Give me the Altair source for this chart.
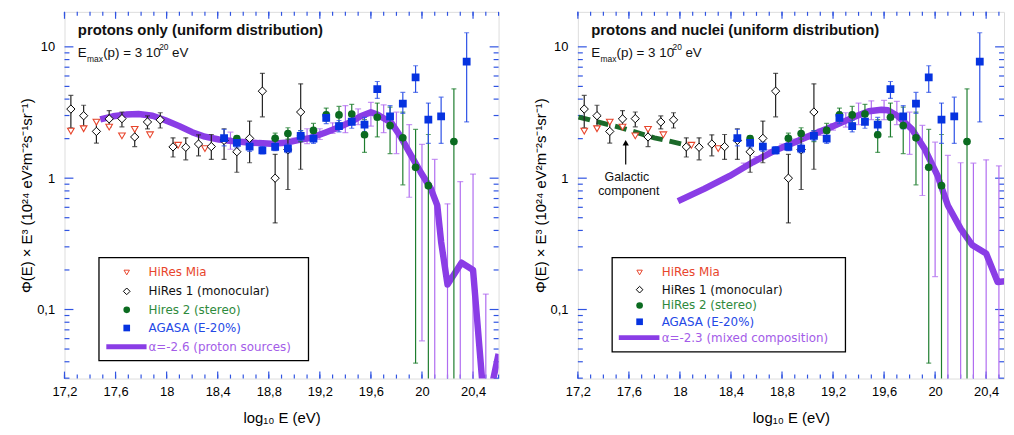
import altair as alt
import pandas as pd

# ---------------- data ----------------
# HiRes Mia (open red triangles)
mia_x = [17.25, 17.35, 17.45, 17.55, 17.65, 17.75, 17.87, 18.09, 18.30]
mia_y = [2.28, 2.38, 2.67, 2.45, 2.10, 2.35, 2.14, 1.78, 1.68]

# HiRes 1 monocular (open diamonds)
h1_x = [17.25, 17.35, 17.45, 17.55, 17.65, 17.75, 17.85, 17.95, 18.05, 18.15,
        18.25, 18.35, 18.45, 18.55, 18.65, 18.75, 18.85, 18.95, 19.05]
h1_y = [3.36, 2.99, 2.27, 2.83, 2.84, 2.06, 2.68, 2.78, 1.73, 1.72,
        1.82, 1.74, 1.94, 1.59, 2.01, 4.60, 1.00, 1.65, 3.19]
h1_lo = [2.42, 2.49, 1.85, 2.46, 2.46, 1.74, 2.37, 2.41, 1.45, 1.38,
         1.48, 1.39, 1.39, 1.11, 1.31, 2.93, 0.456, 0.82, 1.17]
h1_hi = [4.27, 3.59, 2.79, 3.27, 3.19, 2.40, 2.98, 3.15, 2.03, 2.03,
         2.14, 2.15, 2.38, 2.05, 2.72, 6.29, 1.52, 2.25, 5.23]

# HiRes 2 stereo (green dots)
h2_x = [18.55, 18.85, 18.95, 19.05, 19.15, 19.25, 19.35, 19.45, 19.55, 19.65,
        19.75, 19.85, 19.95, 20.05, 20.25]
h2_y = [2.00, 2.01, 2.19, 2.10, 2.31, 3.03, 3.03, 3.08, 2.14, 2.91,
        2.52, 2.03, 1.21, 0.877, 1.90]
h2_lo = [1.85, 1.83, 1.98, 1.90, 2.06, 2.72, 2.64, 2.57, 1.57, 2.06,
         1.54, 0.89, 0.039, 0.001, 0.001]
h2_hi = [2.10, 2.20, 2.42, 2.30, 2.61, 3.42, 3.52, 3.65, 2.79, 3.73,
         3.48, 3.18, 2.35, 2.15, 4.79]

# AGASA (E-20%) (blue squares)
ag_x = [18.45, 18.55, 18.65, 18.75, 18.85, 18.95, 19.05, 19.15, 19.25, 19.35,
        19.45, 19.55, 19.65, 19.75, 19.85, 19.95, 20.05, 20.15, 20.35]
ag_y = [2.02, 1.86, 1.74, 1.63, 1.73, 1.68, 2.10, 2.00, 2.88, 2.49,
        2.69, 2.56, 4.77, 2.96, 3.69, 5.86, 2.79, 2.96, 7.71]
ag_lo = [1.76, 1.70, 1.60, 1.53, 1.62, 1.56, 1.93, 1.84, 2.60, 2.25,
         2.40, 2.25, 4.05, 2.37, 3.12, 4.50, 1.84, 1.84, 2.68]
ag_hi = [2.35, 2.03, 1.90, 1.74, 1.85, 1.82, 2.30, 2.18, 3.18, 2.75,
         3.00, 2.90, 5.45, 3.57, 4.50, 7.18, 3.73, 4.14, 12.8]

# model fluctuation bars (light purple), left panel
ml_x = [18.5, 18.6, 18.7, 18.8, 18.9, 19.0, 19.1, 19.2, 19.3, 19.4, 19.5,
        19.6, 19.7, 19.8, 19.9, 20.0, 20.1, 20.2, 20.3, 20.4, 20.5]
ml_lo = [1.66, 1.82, 1.79, 1.78, 1.80, 1.88, 1.83, 1.97, 2.19, 2.22, 2.56,
         2.49, 2.22, 1.54, 0.716, 0.0577, 0.001, 0.001, 0.001, 0.001, 0.001]
ml_hi = [2.24, 1.95, 1.92, 1.90, 1.93, 2.02, 2.38, 2.38, 2.64, 3.57, 3.37,
         3.78, 3.62, 3.18, 2.56, 1.81, 1.39, 0.638, 0.942, 1.074, 0.131]

# model fluctuation bars (light purple), right panel
mr_x = [18.5, 18.6, 18.7, 18.8, 18.9, 19.0, 19.1, 19.2, 19.3, 19.4, 19.5,
        19.6, 19.7, 19.8, 19.9, 20.0, 20.1, 20.2, 20.3, 20.4, 20.5]
mr_lo = [1.18, 1.34, 1.50, 1.66, 1.80, 1.98, 2.12, 2.32, 2.45, 2.56, 2.79,
         2.79, 2.56, 1.52, 0.738, 0.178, 0.001, 0.001, 0.001, 0.001, 0.001]
mr_hi = [1.30, 1.46, 1.64, 1.82, 1.98, 2.16, 2.36, 2.60, 3.15, 3.73, 3.88,
         3.91, 3.85, 3.18, 2.52, 1.88, 1.49, 1.31, 1.30, 1.38, 1.24]

# model curve, protons only (alpha = -2.6)
cl_x = [17.48, 17.58, 17.68, 17.78, 17.89, 17.99, 18.10, 18.20, 18.30, 18.41,
        18.51, 18.62, 18.72, 18.82, 18.93, 19.03, 19.13, 19.24, 19.34, 19.44,
        19.52, 19.60, 19.65, 19.76, 19.83, 19.91, 19.99, 20.07, 20.12, 20.15,
        20.20, 20.31, 20.40, 20.47, 20.50, 20.53, 20.56, 20.60]
cl_y = [2.80, 2.96, 3.05, 3.08, 2.99, 2.76, 2.49, 2.24, 2.07, 1.97,
        1.92, 1.88, 1.85, 1.83, 1.86, 1.95, 2.03, 2.22, 2.42, 2.67,
        2.96, 3.18, 3.05, 2.64, 2.09, 1.52, 1.11, 0.83, 0.62, 0.327,
        0.155, 0.227, 0.200, 0.030, 0.012, 0.012, 0.030, 0.046]

# model curve, mixed composition (alpha = -2.3)
cr_x = [17.985, 18.19, 18.39, 18.57, 18.73, 18.89, 19.04, 19.20, 19.35, 19.48,
        19.58, 19.63, 19.71, 19.82, 19.92, 20.02, 20.10, 20.20, 20.29, 20.40,
        20.49, 20.55]
cr_y = [0.668, 0.828, 1.04, 1.32, 1.60, 1.86, 2.15, 2.49, 2.88, 3.23,
        3.32, 3.29, 2.96, 2.35, 1.66, 1.04, 0.62, 0.413, 0.31, 0.267,
        0.162, 0.164]

# galactic component (dashed, right panel)
gal_x = [17.205, 17.54, 17.80, 18.06]
gal_y = [2.92, 2.42, 2.03, 1.78]

# tick labels
x_labels = [17.2, 17.6, 18.0, 18.4, 18.8, 19.2, 19.6, 20.0, 20.4]
y_labels = [0.1, 1, 10]

legend_left = ["HiRes Mia", "HiRes 1 (monocular)", "Hires 2 (stereo)",
               "AGASA (E-20%)", "\u03b1=-2.6 (proton sources)"]
legend_right = ["HiRes Mia", "HiRes 1 (monocular)", "HiRes 2 (stereo)",
                "AGASA (E-20%)", "\u03b1=-2.3 (mixed composition)"]

# ---------------- styling ----------------
FRAME = "#3054e2"
PURPLE = "#8a3de6"
PURPLE_ERR = "#b06cf0"
GREEN = "#0b6b20"
GREEN_ERR = "#1e7d2e"
BLUE = "#0633e0"
BLUE_ERR = "#2a4fe6"
RED = "#e8452c"
DKGREEN = "#1c6a2a"
FONT = "Liberation Sans"

H = 370
YDOM = [0.0298, 18.47]

x_minor = [round(17.2 + 0.1 * i, 1) for i in range(35)]
y_minor = [0.03, 0.04, 0.05, 0.06, 0.07, 0.08, 0.09, 0.2, 0.3, 0.4, 0.5, 0.6,
           0.7, 0.8, 0.9, 2, 3, 4, 5, 6, 7, 8, 9]

xaxis = alt.Axis(values=x_labels, labelExpr="replace(format(datum.value, '~g'), '.', ',')",
                 ticks=False, tickSize=0, domain=False, grid=False, labelFont=FONT,
                 labelFontSize=13, labelColor="black", labelPadding=7, labelFlush=False,
                 title="log\u2081\u2080 E (eV)", titleFont=FONT, titleFontSize=15,
                 titleFontWeight="normal", titleColor="black", titlePadding=12)
yaxis = alt.Axis(values=y_labels, labelExpr="replace(format(datum.value, '~g'), '.', ',')",
                 ticks=False, tickSize=0, domain=False, grid=False, labelFont=FONT,
                 labelFontSize=13, labelColor="black", labelPadding=10, labelFlush=False,
                 title="\u03a6(E) \u00d7 E\u00b3 (10\u00b2\u2074 eV\u00b2m\u207b\u00b2s\u207b\u00b9sr\u207b\u00b9)",
                 titleFont=FONT, titleFontSize=15, titleFontWeight="normal",
                 titleColor="black", titlePadding=2)

dummy = pd.DataFrame({"a": [0]})


def panel(xdom, W, curve_x, curve_y, m_x, m_lo, m_hi, leg_labels, title_text,
          green_label_color, box, rows, sym_x, text_x, line_x, extra):
    xs = alt.Scale(domain=xdom, nice=False, zero=False)
    ys = alt.Scale(type="log", domain=YDOM, nice=False)

    def X(f):
        return alt.X(f, type="quantitative", scale=xs, axis=xaxis)

    def Y(f):
        return alt.Y(f, type="quantitative", scale=ys, axis=yaxis)

    layers = []
    xt = pd.DataFrame({"v": [v for v in x_minor if xdom[0] <= v <= xdom[1]]})
    xmaj = pd.DataFrame({"v": [v for v in x_labels if xdom[0] <= v <= xdom[1]]})
    yt = pd.DataFrame({"v": y_minor})
    ymaj = pd.DataFrame({"v": y_labels})
    # ticks (inward, on all four sides)
    layers.append(alt.Chart(xt).mark_rule(color=FRAME, strokeWidth=1.2).encode(
        x=X("v"), y=alt.value(H), y2=alt.value(H - 4)))
    layers.append(alt.Chart(xmaj).mark_rule(color=FRAME, strokeWidth=1.2).encode(
        x=X("v"), y=alt.value(H), y2=alt.value(H - 7)))
    layers.append(alt.Chart(xt).mark_rule(color=FRAME, strokeWidth=1.2).encode(
        x=X("v"), y=alt.value(0), y2=alt.value(4)))
    layers.append(alt.Chart(xmaj).mark_rule(color=FRAME, strokeWidth=1.2).encode(
        x=X("v"), y=alt.value(0), y2=alt.value(7)))
    layers.append(alt.Chart(yt).mark_rule(color=FRAME, strokeWidth=1.2).encode(
        y=Y("v"), x=alt.value(0), x2=alt.value(5)))
    layers.append(alt.Chart(ymaj).mark_rule(color=FRAME, strokeWidth=1.2).encode(
        y=Y("v"), x=alt.value(0), x2=alt.value(9)))
    layers.append(alt.Chart(yt).mark_rule(color=FRAME, strokeWidth=1.2).encode(
        y=Y("v"), x=alt.value(W), x2=alt.value(W - 5)))
    layers.append(alt.Chart(ymaj).mark_rule(color=FRAME, strokeWidth=1.2).encode(
        y=Y("v"), x=alt.value(W), x2=alt.value(W - 9)))

    def errbars(x, lo, hi, color, cap=5, width=1.2):
        df = pd.DataFrame({"x": x, "lo": lo, "hi": hi})
        return [
            alt.Chart(df).mark_rule(color=color, strokeWidth=width, clip=True).encode(
                x=X("x"), y=Y("lo"), y2=alt.Y2("hi")),
            alt.Chart(df).mark_tick(color=color, orient="horizontal", size=cap,
                                    thickness=1.2, clip=True).encode(x=X("x"), y=Y("lo")),
            alt.Chart(df).mark_tick(color=color, orient="horizontal", size=cap,
                                    thickness=1.2, clip=True).encode(x=X("x"), y=Y("hi")),
        ]

    layers += errbars(m_x, m_lo, m_hi, PURPLE_ERR, cap=6)
    for lay in extra.get("below", []):
        layers.append(lay(X, Y))
    cdf = pd.DataFrame({"x": curve_x, "y": curve_y})
    layers.append(alt.Chart(cdf).mark_line(color=PURPLE, strokeWidth=6.5, clip=True,
                                           strokeJoin="round").encode(
        x=X("x"), y=Y("y"), order=alt.Order("x:Q")))
    layers += errbars(h1_x, h1_lo, h1_hi, "#222222")
    layers += errbars(h2_x, h2_lo, h2_hi, GREEN_ERR)
    layers += errbars(ag_x, ag_lo, ag_hi, BLUE_ERR)

    mia = pd.DataFrame({"x": mia_x, "y": mia_y})
    h1 = pd.DataFrame({"x": h1_x, "y": h1_y})
    h2 = pd.DataFrame({"x": h2_x, "y": h2_y})
    ag = pd.DataFrame({"x": ag_x, "y": ag_y})
    layers.append(alt.Chart(mia).mark_point(shape="triangle-down", size=45, filled=True,
                                            fill="white", stroke=RED, strokeWidth=1.1,
                                            opacity=1, clip=True).encode(x=X("x"), y=Y("y")))
    layers.append(alt.Chart(h1).mark_point(shape="diamond", size=70, filled=True,
                                           fill="white", stroke="black", strokeWidth=1,
                                           opacity=1, clip=True).encode(x=X("x"), y=Y("y")))
    layers.append(alt.Chart(h2).mark_point(shape="circle", size=60, filled=True,
                                           color=GREEN, opacity=1, clip=True).encode(
        x=X("x"), y=Y("y")))
    layers.append(alt.Chart(ag).mark_point(shape="square", size=62, filled=True,
                                           color=BLUE, opacity=1, clip=True).encode(
        x=X("x"), y=Y("y")))

    for lay in extra.get("above", []):
        layers.append(lay(X, Y))

    # legend box
    bx0, bx1, by0, by1 = box
    layers.append(alt.Chart(dummy).mark_rect(fill="white", stroke="black", strokeWidth=1.3).encode(
        x=alt.value(bx0), x2=alt.value(bx1), y=alt.value(by0), y2=alt.value(by1)))
    leg_colors = [RED, "#111111", green_label_color, "#2448e6", "#a35ce8"]
    sym_specs = [
        dict(shape="triangle-down", size=30, filled=True, fill="white", stroke=RED, strokeWidth=1),
        dict(shape="diamond", size=45, filled=True, fill="white", stroke="black", strokeWidth=1),
        dict(shape="circle", size=45, filled=True, color=GREEN),
        dict(shape="square", size=45, filled=True, color=BLUE),
    ]
    for i, spec in enumerate(sym_specs):
        layers.append(alt.Chart(dummy).mark_point(opacity=1, **spec).encode(
            x=alt.value(sym_x), y=alt.value(rows[i])))
    layers.append(alt.Chart(dummy).mark_rule(color=PURPLE, strokeWidth=5).encode(
        x=alt.value(line_x[0]), x2=alt.value(line_x[1]), y=alt.value(rows[4])))
    for i, lab in enumerate(leg_labels):
        layers.append(alt.Chart(dummy).mark_text(align="left", baseline="middle", font="DejaVu Sans",
                                                 fontSize=12, color=leg_colors[i]).encode(
            x=alt.value(text_x), y=alt.value(rows[i]), text=alt.value(lab)))

    # panel title and E_max line
    layers.append(alt.Chart(dummy).mark_text(align="left", baseline="middle", font=FONT,
                                             fontSize=15, fontWeight="bold", color="#111111").encode(
        x=alt.value(13.5), y=alt.value(18.7), text=alt.value(title_text)))
    pieces = [("E", 13.5, 45.3, 13.5), ("max", 22.8, 50.5, 8.5), ("(p) = 3 10", 39.0, 45.3, 13.5),
              ("20", 95.5, 38.0, 8.5), ("eV", 108.5, 45.3, 13.5)]
    for txt, px, py, fs in pieces:
        layers.append(alt.Chart(dummy).mark_text(align="left", baseline="alphabetic", font=FONT,
                                                 fontSize=fs, color="#111111").encode(
            x=alt.value(px), y=alt.value(py), text=alt.value(txt)))

    for lay in extra.get("anchor", []):
        layers.append(lay())

    return alt.layer(*layers).properties(width=W, height=H)


# right-panel extras
gal = pd.DataFrame({"x": gal_x, "y": gal_y})
arrow = pd.DataFrame({"x": [17.575], "y1": [1.27], "y2": [1.80]})
arrow_head = pd.DataFrame({"x": [17.575], "y": [1.86]})
gal_text = pd.DataFrame({"x": [17.584, 17.599], "y": [1.014, 0.795],
                         "t": ["Galactic", "component"]})


def gal_line(X, Y):
    return alt.Chart(gal).mark_line(color=DKGREEN, strokeWidth=5, strokeDash=[12, 7],
                                    clip=True).encode(x=X("x"), y=Y("y"), order=alt.Order("x:Q"))


def arrow_line(X, Y):
    return alt.Chart(arrow).mark_rule(color="black", strokeWidth=1.2).encode(
        x=X("x"), y=Y("y1"), y2=alt.Y2("y2"))


def arrow_tip(X, Y):
    return alt.Chart(arrow_head).mark_point(shape="triangle-up", size=40, filled=True,
                                            color="black", opacity=1).encode(x=X("x"), y=Y("y"))


def gal_label(X, Y):
    return alt.Chart(gal_text).mark_text(align="center", baseline="middle", font=FONT,
                                         fontSize=12.5, color="#111111").encode(
        x=X("x"), y=Y("y"), text="t:N")


def left_anchor():
    # white hairline that fixes the left margin of the whole figure
    return alt.Chart(dummy).mark_rule(color="white", strokeWidth=1).encode(
        x=alt.value(-56), x2=alt.value(-50), y=alt.value(H / 2))


left = panel([17.2, 20.6], 438, cl_x, cl_y, ml_x, ml_lo, ml_hi, legend_left,
             "protons only (uniform distribution)", "#2e8a3c",
             (34.8, 246.2, 248, 352), [263, 282, 300.7, 319, 338], 62.8, 84.8, (42.2, 82.8),
             {"anchor": [left_anchor]})
right = panel([17.2, 20.54], 430, cr_x, cr_y, mr_x, mr_lo, mr_hi, legend_right,
              "protons and nuclei (uniform distribution)", "#2e8a3c",
              (34.6, 270, 248, 343), [263, 280.3, 296.3, 312.7, 328.7], 62.3, 84.6, (41.3, 82.3),
              {"below": [gal_line], "above": [arrow_line, arrow_tip, gal_label]})

chart = alt.hconcat(left, right, spacing=80, bounds="flush").properties(
    padding={"left": 0, "top": 0, "right": 0, "bottom": 0}
).configure_view(stroke=FRAME, strokeWidth=1.5).configure(background="white")

chart.save("out.html", embed_options={"renderer": "svg", "actions": False})
